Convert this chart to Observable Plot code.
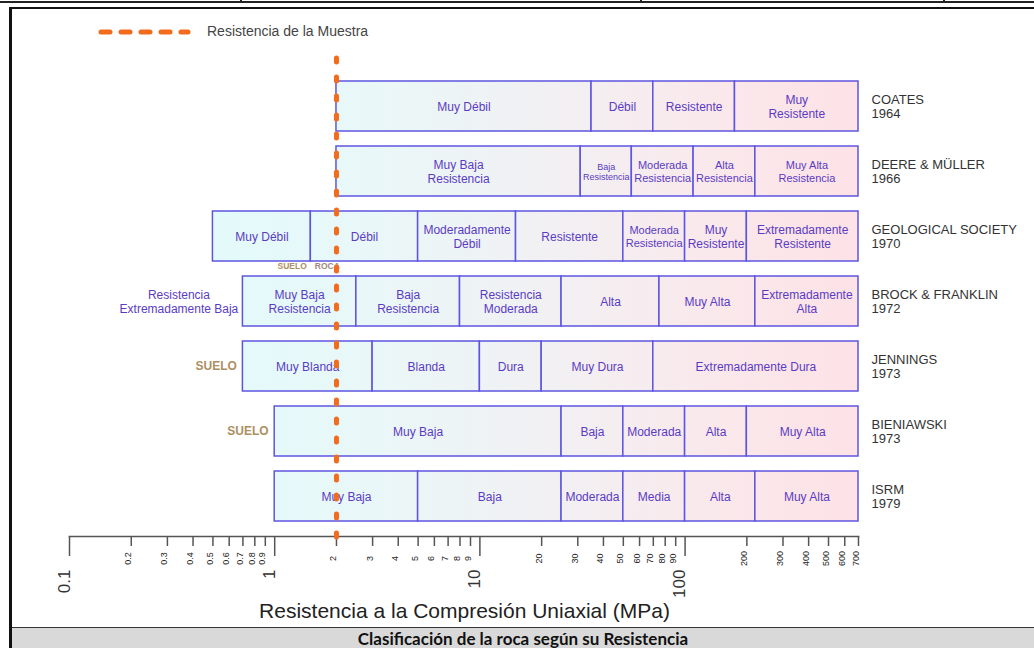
<!DOCTYPE html>
<html>
<head>
<meta charset="utf-8">
<script src="https://cdn.jsdelivr.net/npm/d3@7"></script>
<script src="https://cdn.jsdelivr.net/npm/@observablehq/plot@0.6"></script>
<style>
  body { margin: 0; background: #fff; }
  #page { position: relative; width: 1034px; height: 648px; overflow: hidden; background: #fff; font-family: "Liberation Sans", Arial, sans-serif; }
  #chart { position: absolute; left: 0; top: 0; }
  .deco { position: absolute; pointer-events: none; }
</style>
</head>
<body>
<div id="page">
  <div id="chart"></div>
  <div class="deco" style="left:0;top:0;width:1034px;height:1px;border-bottom:2px solid #222;"></div>
  <div class="deco" style="left:240px;top:0;width:2px;height:3px;background:#222;"></div>
  <div class="deco" style="left:640px;top:0;width:2px;height:3px;background:#222;"></div>
  <div class="deco" style="left:943px;top:0;width:2px;height:3px;background:#222;"></div>
  <div class="deco" style="left:9px;top:7px;width:1040px;height:650px;border-left:3px solid #111;border-top:2px solid #111;"></div>
  <svg class="deco" style="left:95px;top:24px;" width="100" height="16">
    <line x1="6" y1="8" x2="93" y2="8" stroke="#f36b1c" stroke-width="5" stroke-linecap="round" stroke-dasharray="9,11"></line>
  </svg>
  <div class="deco" style="left:207px;top:23px;font-size:14px;color:#444;">Resistencia de la Muestra</div>
  <div class="deco" style="left:11px;width:1023px;top:599px;text-align:center;font-size:21px;color:#222;"><span style="position:relative;left:-58px;">Resistencia a la Compresión Uniaxial (MPa)</span></div>
  <div class="deco" style="left:12px;top:627px;width:1022px;height:21px;background:#d9d9d9;border-top:1px solid #333;text-align:center;font-family:Lato,'Noto Sans',sans-serif;font-weight:bold;font-size:17px;line-height:21px;color:#111;">Clasificación de la roca según su Resistencia</div>
</div>
<script>
// ---- data ----
const rows = ["COATES", "DEERE & MÜLLER", "GEOLOGICAL SOCIETY", "BROCK & FRANKLIN", "JENNINGS", "BIENIAWSKI", "ISRM"];
const years = ["1964", "1966", "1970", "1972", "1973", "1973", "1979"];

const coatesLimits = [2, 35, 70, 175, 700];
const coatesLabels = ["Muy Débil", "Débil", "Resistente", "Muy\nResistente"];

const deereLimits = [2, 31, 55, 110, 220, 700];
const deereLabels = ["Muy Baja\nResistencia", "Baja\nResistencia", "Moderada\nResistencia", "Alta\nResistencia", "Muy Alta\nResistencia"];
const deereSizes = [12, 9, 11, 11, 11];

const geoLimits = [0.5, 1.5, 5, 15, 50, 100, 200, 700];
const geoLabels = ["Muy Débil", "Débil", "Moderadamente\nDébil", "Resistente", "Moderada\nResistencia", "Muy\nResistente", "Extremadamente\nResistente"];
const geoSizes = [12, 12, 12, 12, 11, 12, 12];

const brockLimits = [0.7, 2.5, 8, 25, 75, 220, 700];
const brockLabels = ["Muy Baja\nResistencia", "Baja\nResistencia", "Resistencia\nModerada", "Alta", "Muy Alta", "Extremadamente\nAlta"];

const jenningsLimits = [0.7, 3, 10, 20, 70, 700];
const jenningsLabels = ["Muy Blanda", "Blanda", "Dura", "Muy Dura", "Extremadamente Dura"];

const bieniawskiLimits = [1, 25, 50, 100, 200, 700];
const bieniawskiLabels = ["Muy Baja", "Baja", "Moderada", "Alta", "Muy Alta"];

const isrmLimits = [1, 5, 25, 50, 100, 220, 700];
const isrmLabels = ["Muy Baja", "Baja", "Moderada", "Media", "Alta", "Muy Alta"];

const sampleStrength = [2];
const soilRockLimit = [1.5];

const majorTickLabels = ["0.1", "1", "10", "100"];
const minorTickLabels = ["0.2", "0.3", "0.4", "0.5", "0.6", "0.7", "0.8", "0.9",
  "2", "3", "4", "5", "6", "7", "8", "9",
  "20", "30", "40", "50", "60", "70", "80", "90",
  "200", "300", "400", "500", "600", "700"];

// ---- build table ----
const schemes = [
  [coatesLimits, coatesLabels, null],
  [deereLimits, deereLabels, deereSizes],
  [geoLimits, geoLabels, geoSizes],
  [brockLimits, brockLabels, null],
  [jenningsLimits, jenningsLabels, null],
  [bieniawskiLimits, bieniawskiLabels, null],
  [isrmLimits, isrmLabels, null]
];
const cells = [];
schemes.forEach(([lim, lab, sizes], r) => {
  lab.forEach((l, i) => {
    cells.push({row: rows[r], x1: lim[i], x2: lim[i + 1], label: l, size: sizes ? sizes[i] : 12});
  });
});
const majors = majorTickLabels.map(Number);
const minors = minorTickLabels.map(Number);

const textColor = "#5a3cc4";
const boxStroke = "#5d55e0";
const soilColor = "#ad8f62";

const leftNotes = [
  {row: "BROCK & FRANKLIN", x: brockLimits[0], text: "Resistencia\nExtremadamente Baja"}
];
const soilNotes = [
  {row: "JENNINGS", x: jenningsLimits[0]},
  {row: "BIENIAWSKI", x: bieniawskiLimits[0]}
];

const chart = Plot.plot({
  width: 1034,
  height: 626,
  marginTop: 52,
  marginBottom: 90,
  marginLeft: 69,
  marginRight: 176,
  style: {background: "transparent", overflow: "visible", fontFamily: "'Liberation Sans', Arial, sans-serif"},
  x: {type: "log", domain: [0.1, 700], axis: null},
  y: {type: "band", domain: rows, range: [73.5, 528.5], paddingInner: 15 / 65, paddingOuter: 7.5 / 65, axis: null},
  marks: [
    Plot.barX(cells, {x1: "x1", x2: "x2", y: "row", fill: "url(#cellGrad)", stroke: boxStroke, strokeWidth: 1.5}),
    Plot.text(cells, {x: d => Math.sqrt(d.x1 * d.x2), y: "row", text: "label", fontSize: "size", fill: textColor, lineHeight: 1.15}),
    Plot.text(rows, {y: d => d, frameAnchor: "right", dx: 13, text: (d, i) => d + "\n" + years[i], textAnchor: "start", fontSize: 13, lineHeight: 1.1, fill: "#333"}),
    Plot.text(leftNotes, {x: "x", y: "row", text: "text", dx: -64, textAnchor: "middle", fontSize: 12, lineHeight: 1.15, fill: textColor}),
    Plot.text(soilNotes, {x: "x", y: "row", text: () => "SUELO", dx: -6, textAnchor: "end", fontSize: 12, fontWeight: "bold", fill: soilColor}),
    Plot.ruleX(soilRockLimit, {x: d => d, y: () => "GEOLOGICAL SOCIETY", insetTop: 50, insetBottom: -10, stroke: boxStroke, strokeWidth: 1.5}),
    Plot.text(soilRockLimit, {x: d => d, y: () => "GEOLOGICAL SOCIETY", text: () => "SUELO", dx: -4, dy: 30, textAnchor: "end", fontSize: 8.5, fontWeight: "bold", fill: soilColor}),
    Plot.text(soilRockLimit, {x: d => d, y: () => "GEOLOGICAL SOCIETY", text: () => "ROCA", dx: 4, dy: 30, textAnchor: "start", fontSize: 8.5, fontWeight: "bold", fill: "#a08a80"}),
    Plot.frame({anchor: "bottom", stroke: "#555", strokeWidth: 1.5}),
    Plot.axisX(minors, {anchor: "bottom", tickSize: 10, tickFormat: () => "", stroke: "#555", strokeWidth: 1.5}),
    Plot.axisX(majors, {anchor: "bottom", tickSize: 20, tickFormat: () => "", stroke: "#555", strokeWidth: 1.5}),
    Plot.text(minors, {x: d => d, frameAnchor: "bottom", dy: 22, rotate: -90, text: (d, i) => minorTickLabels[i], textAnchor: "middle", fontSize: 9, fill: "#222"}),
    Plot.text(majors, {x: d => d, frameAnchor: "bottom", dy: 33, rotate: -90, text: (d, i) => majorTickLabels[i], textAnchor: "end", fontSize: 17, fill: "#333"}),
    Plot.ruleX(sampleStrength, {x: d => d, insetBottom: -5, stroke: "#f36b1c", strokeWidth: 5, strokeLinecap: "round", strokeDasharray: "4,15", strokeDashoffset: -6})
  ]
});

// gradient fill of the cells, positioned through the x scale
const xs = chart.scale("x");
const gx1 = xs.apply(geoLimits[0]);
const gx2 = xs.apply(700);
const gradStops = [[0.5, "#e3fafa"], [2, "#e8f8f9"], [10, "#eef3f5"], [40, "#f4eef1"], [150, "#fae8eb"], [700, "#fde2e6"]];
const ns = "http://www.w3.org/2000/svg";
const defs = document.createElementNS(ns, "defs");
const grad = document.createElementNS(ns, "linearGradient");
grad.setAttribute("id", "cellGrad");
grad.setAttribute("gradientUnits", "userSpaceOnUse");
grad.setAttribute("x1", gx1);
grad.setAttribute("x2", gx2);
grad.setAttribute("y1", 0);
grad.setAttribute("y2", 0);
gradStops.forEach(([v, c]) => {
  const s = document.createElementNS(ns, "stop");
  s.setAttribute("offset", (xs.apply(v) - gx1) / (gx2 - gx1));
  s.setAttribute("stop-color", c);
  grad.appendChild(s);
});
defs.appendChild(grad);
chart.insertBefore(defs, chart.firstChild);

document.getElementById("chart").appendChild(chart);
</script>
</body>
</html>
